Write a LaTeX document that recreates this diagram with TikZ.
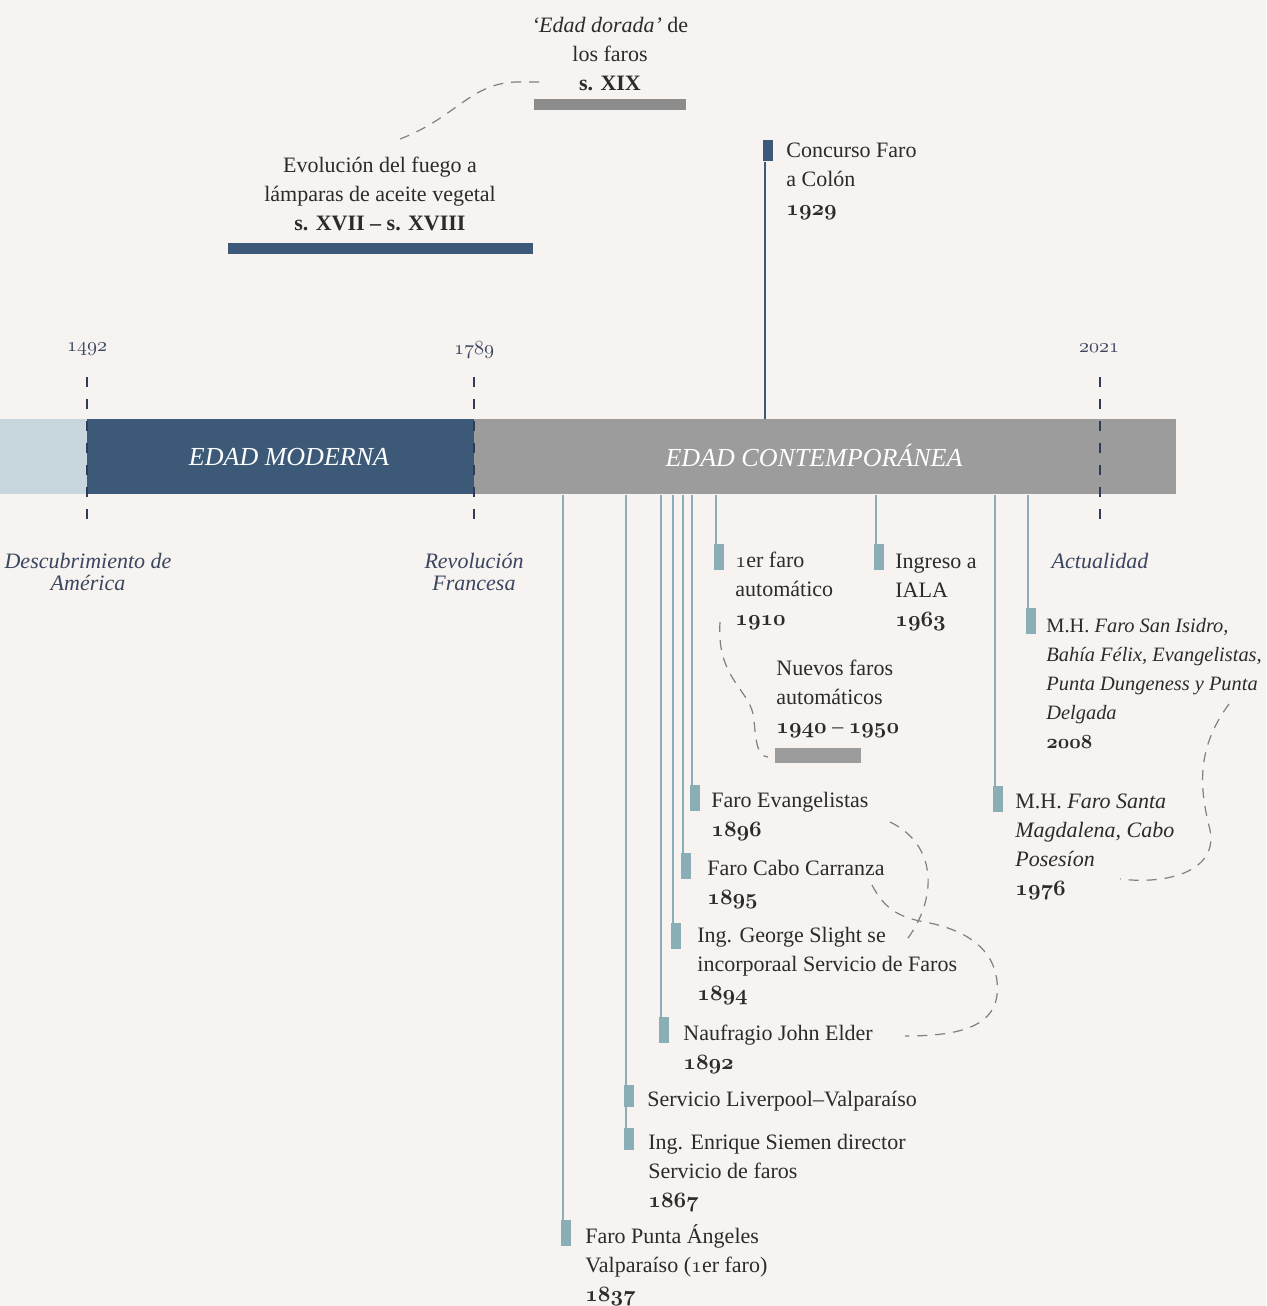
\documentclass[tikz,border=0pt]{standalone}
\usepackage{fontspec}
\setmainfont{Liberation Serif}
\usetikzlibrary{calc}
\definecolor{bg}{HTML}{F6F3F0}
\definecolor{navy}{HTML}{3C5A78}
\definecolor{graybar}{HTML}{9C9C9C}
\definecolor{lightbar}{HTML}{C8D7DD}
\definecolor{teal1}{HTML}{89AEB6}
\definecolor{darkgraybar}{HTML}{8C8C8C}
\definecolor{navyd}{HTML}{2F3B57}
\definecolor{txt}{HTML}{2B2B2B}
\definecolor{lbl}{HTML}{3A4560}
\definecolor{curvegray}{HTML}{808080}
\newcommand\evfont{\fontsize{11}{14.5}\selectfont}
\newcommand\yr[1]{{\usefont{OML}{cmm}{b}{it}#1}}
\newcommand\osn[1]{{\usefont{OML}{cmm}{m}{it}#1}}
\begin{document}
\begin{tikzpicture}[x=0.5pt,y=-0.5pt,
  evtext/.style={anchor=north west, align=left, inner sep=0pt, font=\evfont, text=txt, yshift=-1.25pt},
  toptext/.style={anchor=north, align=center, inner sep=0pt, font=\evfont, text=txt, yshift=-1.5pt},
  marker/.style={anchor=north west, fill=teal1, inner sep=0pt, minimum width=5pt, minimum height=13pt},
  tealline/.style={draw=teal1, line width=1pt},
  vdash/.style={draw=navyd, line width=1pt, dash pattern=on 5pt off 6pt},
  curvedash/.style={draw=curvegray, line width=0.6pt, dash pattern=on 5pt off 4pt},
  barseg/.style={anchor=north west, inner sep=0pt, minimum height=37.5pt},
  periodlbl/.style={font=\fontsize{13}{15}\selectfont\itshape, text=white, inner sep=0pt},
  datelbl/.style={font=\fontsize{10}{12}\selectfont, text=lbl, inner sep=0pt, yshift=-1.25pt},
  eralbl/.style={anchor=north, align=center, inner sep=0pt, font=\fontsize{11}{11}\selectfont\itshape, text=lbl, yshift=-1.5pt},
  hbar/.style={anchor=north west, inner sep=0pt}]
\useasboundingbox (0,0) rectangle (1266,1306);
\fill[bg] (0,0) rectangle (1266,1306);

% main bar
\node[barseg, fill=lightbar, minimum width=43.5pt] (pre) at (0,419) {};
\node[barseg, fill=navy, minimum width=193.5pt] (modern) at (87,419) {};
\node[barseg, fill=graybar, minimum width=351pt] (contemp) at (474,419) {};
\node[periodlbl] (modlbl) at (289,457) {EDAD MODERNA};
\node[periodlbl] (conlbl) at (814,455) {EDAD CONTEMPOR\'ANEA};

% dashed markers
\coordinate (d1t) at (87,377); \coordinate (d1b) at (87,530);
\coordinate (d2t) at (474,377); \coordinate (d2b) at (474,530);
\coordinate (d3t) at (1100,377); \coordinate (d3b) at (1100,530);
\draw[vdash] (d1t) -- (d1b);
\draw[vdash] (d2t) -- (d2b);
\draw[vdash] (d3t) -- (d3b);
\node[datelbl] (y1492) at (87,347) {\osn{1492}};
\node[datelbl] (y1789) at (474,347) {\osn{1789}};
\node[datelbl] (y2021) at (1099,346) {\osn{2021}};
\node[eralbl] (desc) at (88,550) {Descubrimiento de\\Am\'erica};
\node[eralbl] (revo) at (474,550) {Revoluci\'on\\Francesa};
\node[eralbl] (actu) at (1100,550) {Actualidad};

% top periods
\node[toptext] (dorada) at (610,14) {\textit{`Edad dorada'} de\\los faros\\\textbf{s. XIX}};
\node[hbar, fill=darkgraybar, minimum width=76pt, minimum height=5.5pt] (bxix) at (534,99) {};
\node[toptext] (evol) at (380,154) {Evoluci\'on del fuego a\\l\'amparas de aceite vegetal\\\textbf{s. XVII -- s. XVIII}};
\node[hbar, fill=navy, minimum width=152.5pt, minimum height=5.5pt] (bxvii) at (228,243) {};
\draw[curvedash] (400,139) .. controls (455,118) and (470,84) .. (515,82) -- (543,82);

% concurso 1929
\node[hbar, fill=navy, minimum width=5pt, minimum height=10.5pt] (m1929) at (763,140) {};
\draw[draw=navy, line width=1pt] ([xshift=1pt]m1929.south west) -- ([xshift=1pt]m1929.south west |- contemp.north);
\node[evtext] (t1929) at (786,140) {Concurso Faro\\a Col\'on\\\yr{1929}};

% events below
\node[marker] (m1837) at (561,1220) {};
\node[marker, minimum height=11pt] (m1867) at (624,1128) {};
\node[marker, minimum height=11pt] (mliv) at (624,1085) {};
\node[marker] (m1892) at (659,1017) {};
\node[marker] (m1894) at (671,923) {};
\node[marker] (m1895) at (681,853) {};
\node[marker] (m1896) at (690,785) {};
\node[marker] (m1910) at (714,544) {};
\node[marker] (m1963) at (874,544) {};
\node[marker] (m1976) at (993,786) {};
\node[marker] (m2008) at (1026,608) {};

\foreach \m in {m1837,m1867,m1892,m1894,m1895,m1896,m1910,m1963,m1976,m2008}{
  \draw[tealline] ([xshift=1pt]\m.north west) -- ([xshift=1pt]\m.north west |- contemp.south);
}

\node[evtext] (t1837) at (585,1222) {Faro Punta \'Angeles\\Valpara\'iso (\osn{1}er faro)\\\yr{1837}};
\node[evtext] (t1867) at (648,1131) {Ing. Enrique Siemen director\\Servicio de faros\\\yr{1867}};
\node[evtext] (tliv) at (647,1088) {Servicio Liverpool--Valpara\'iso};
\node[evtext] (t1892) at (683,1022) {Naufragio John Elder\\\yr{1892}};
\node[evtext] (t1894) at (697,924) {Ing. George Slight se\\incorporaal Servicio de Faros\\\yr{1894}};
\node[evtext] (t1895) at (707,857) {Faro Cabo Carranza\\\yr{1895}};
\node[evtext] (t1896) at (711,789) {Faro Evangelistas\\\yr{1896}};
\node[evtext] (t1910) at (735,549) {\osn{1}er faro\\autom\'atico\\\yr{1910}};
\node[evtext] (t1963) at (895,551) {Ingreso a\\IALA\\\yr{1963}};
\node[evtext] (t1976) at (1015,791) {M.H. \textit{Faro Santa}\\\textit{Magdalena, Cabo}\\\textit{Poses\'ion}\\\yr{1976}};
\node[evtext, font=\fontsize{10.2}{14.5}\selectfont] (t2008) at (1046,615) {M.H. \textit{Faro San Isidro,}\\\textit{Bah\'ia F\'elix, Evangelistas,}\\\textit{Punta Dungeness y Punta}\\\textit{Delgada}\\\yr{2008}};

% nuevos faros
\node[evtext] (tnuevos) at (776,657) {Nuevos faros\\autom\'aticos\\\yr{1940} -- \yr{1950}};
\node[hbar, fill=graybar, minimum width=43pt, minimum height=7.5pt] (bnuevos) at (775,748) {};

% dashed curves
\draw[curvedash] (720,622) .. controls (716,680) and (752,690) .. (754,720) .. controls (756,745) and (758,756) .. (768,757);
\draw[curvedash] (890,822) .. controls (938,845) and (938,900) .. (905,942);
\draw[curvedash] (872,885) .. controls (885,910) and (900,918) .. (930,923) .. controls (985,935) and (1000,965) .. (997,995) .. controls (993,1030) and (950,1036) .. (905,1036);
\draw[curvedash] (1229,704) .. controls (1195,750) and (1200,790) .. (1210,830) .. controls (1218,870) and (1170,885) .. (1120,879);
\end{tikzpicture}
\end{document}
